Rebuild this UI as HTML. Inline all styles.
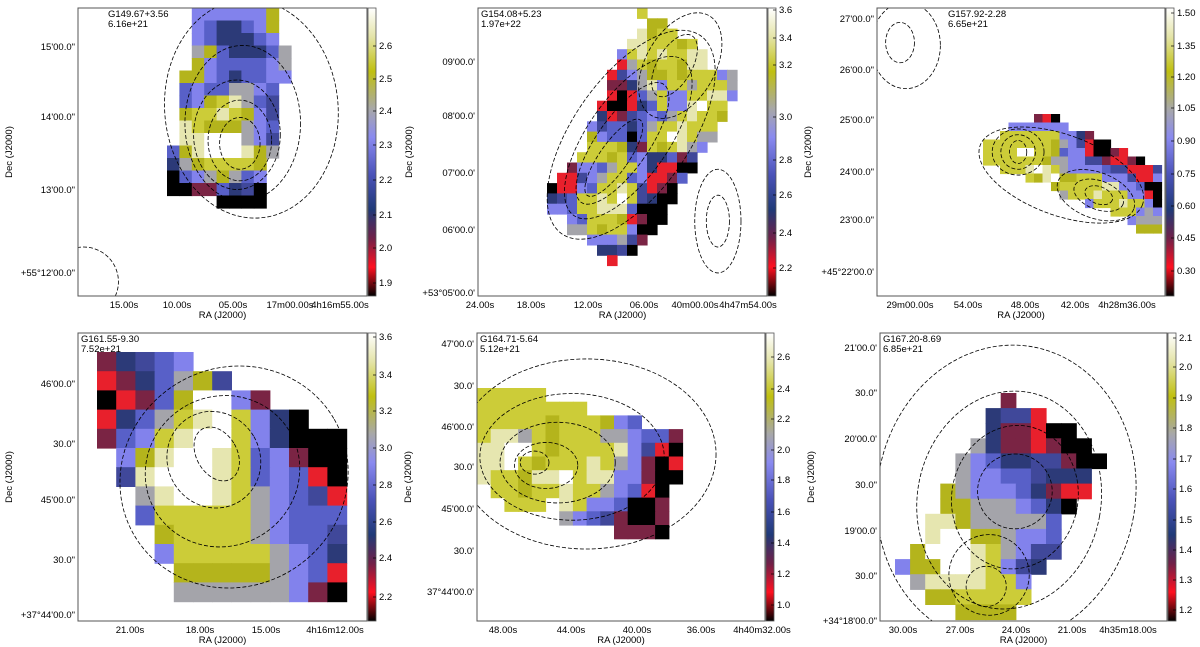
<!DOCTYPE html>
<html><head><meta charset="utf-8"><style>
html,body{margin:0;padding:0;background:#fff;overflow:hidden;width:1200px;height:647px;}
svg{display:block;}
svg text{font-family:"Liberation Sans","DejaVu Sans",sans-serif;fill:#000;}
</style></head><body>
<svg id="fig" width="1200" height="647" viewBox="0 0 1200 647" xmlns="http://www.w3.org/2000/svg">
<defs>
<linearGradient id="cmap" x1="0" y1="1" x2="0" y2="0">
<stop offset="0" stop-color="#000000"/><stop offset="0.1" stop-color="#ff1020"/><stop offset="0.2" stop-color="#702048"/><stop offset="0.3" stop-color="#203a78"/><stop offset="0.42" stop-color="#4a52b8"/><stop offset="0.55" stop-color="#8a8af0"/><stop offset="0.65" stop-color="#a8a8a8"/><stop offset="0.78" stop-color="#c0c010"/><stop offset="0.9" stop-color="#e4e4a8"/><stop offset="1" stop-color="#ffffff"/>
</linearGradient>
</defs>
</svg>
<script>
const palette={k:'#000000',r:'#e8202c',m:'#7a2444',d:'#2c3a78',n:'#40489a',b:'#5860c8',l:'#8282ec',g:'#a4a4aa',o:'#b4b41c',y:'#cccc38',p:'#e6e6b0',w:'#ffffff'};

const titles1=['G149.67+3.56','G154.08+5.23','G157.92-2.28','G161.55-9.30','G164.71-5.64','G167.20-8.69'];
const titles2=['6.16e+21','1.97e+22','6.65e+21','7.52e+21','5.12e+21','6.85e+21'];

const grid1=["..llllllo.","..lbddblo.","..lbdddbl.","..gobdddbg","..olbbbblg",".oolbdbbll",".blbbgglb.",".bloypgbn.",".oyypyoln.",".pyoooglb.",".ppwwwgln.","bopwwwpog.","dgoyyyyo..","kblgogbl..","kkmmbdnk..","....kkkk.."];
const grid2=["...........y..........","............oo........","...........poyy.......","..........ppyyyoy.....",".........lypypyypp....",".........rgyoyyopp....","........rnlgooyoyyylg.","........mmdgplyygyyyg.","........rkrbgyllyyppl.",".......rkkrdbyllpwyy..",".......drmnblbgypyyo..","......lnbbdbgyypyyy...","......olbbkbyywpygg...","......yyyodmyoypgl....",".....yyyoyblddbmn.....","....mllbgyyldrrkk.....","...rrnlgyyblrrmb......","..krrlbyypynrmk.......","..dnbyypywyndkk.......","..llbyypppbkkk........","....lbyyyormkk........","....ggyoyylkk.........","......lllgnm..........",".......ddnk...........","........r............."];
const grid3=["......mrk............","...lllllll...........","..yyyyyyylldm........","yyyyyyyyoglnrkk......","yyyywwyyobllrkkmr....","yyyyyyyoggllnnmrrmk..","..yyypwpygllllbnnrrrn",".....yopwooyyylllnrrl","........oyyyyyppllbkk",".........gyyypyyyllrk","............lyyypyylk","...............yyylgl",".................lggg","..................ooo"];
const grid4=["mdnbl........","rmdbgon......","krmbowwlm....","rdbgypwyldk..","mblypwwyldkkk",".lopwwpyblmkk",".npwwwpyblbrk","..gpwwpyglbnr","..byyyyyglbbb","...oyyyyglbbn","...lyyyyyglbd","....oooooglbr","....gggggglmk"];
const grid5=["yyyyy..........","yyyyyyyy.......","yyyyyoyyyolb...","yppgyoyyygglbbm","ppwwyoyyyyplnrk","ppwyoyyypyglmkr","pyyoppwyppllmkk",".yyoyypyyglbrk.","..yyy.pyllbkkm.","......glbnmkkm.","..........mmmk."];
const grid6=[".......m......","......dnnr....","......dmmrkk..",".....gdmmrmkk.","....glbddnnmkk","....gllbbnddd.","...oglllbdmrr..","...ooggglbdk...","..ppogggggb....","..pwwoogllb....",".owwwpyglnn....","loowwpylnd....",".gppppyyl.....","..ooyyyyy.....","....oooo......"];
const grids=[grid1,grid2,grid3,grid4,grid5,grid6];

// contour ellipses [cx,cy,rx,ry,angle] in axis fractions
const cont1=[[0.56,0.47,0.07,0.09,0],[0.56,0.46,0.11,0.14,0],[0.55,0.44,0.15,0.19,0],[0.57,0.4,0.2,0.27,0],[0.6,0.35,0.3,0.38,-5],[0.02,0.95,0.12,0.12,30]];
const cont2=[[0.47,0.52,0.05,0.16,35],[0.5,0.47,0.09,0.25,35],[0.52,0.45,0.14,0.33,35],[0.53,0.44,0.2,0.42,35],[0.68,0.2,0.06,0.12,30],[0.7,0.2,0.12,0.2,30],[0.83,0.74,0.04,0.09,0],[0.83,0.74,0.08,0.18,0]];
const cont3=[[0.49,0.5,0.03,0.04,0],[0.49,0.5,0.06,0.06,0],[0.49,0.5,0.09,0.08,0],[0.77,0.65,0.05,0.03,20],[0.77,0.65,0.09,0.05,20],[0.76,0.65,0.14,0.08,20],[0.64,0.58,0.3,0.14,20],[0.08,0.12,0.05,0.07,0],[0.1,0.13,0.12,0.15,0]];
const cont4=[[0.48,0.42,0.07,0.1,-30],[0.47,0.44,0.16,0.17,-30],[0.5,0.48,0.27,0.26,-30],[0.54,0.5,0.4,0.38,-30]];
const cont5=[[0.2,0.45,0.05,0.04,0],[0.24,0.46,0.11,0.08,0],[0.28,0.45,0.2,0.14,0],[0.33,0.43,0.32,0.22,0],[0.38,0.42,0.45,0.33,0]];
const cont6=[[0.37,0.88,0.07,0.07,0],[0.38,0.84,0.14,0.14,0],[0.47,0.55,0.13,0.13,10],[0.47,0.57,0.22,0.25,10],[0.45,0.58,0.32,0.38,10],[0.44,0.56,0.45,0.52,10]];
const conts=[cont1,cont2,cont3,cont4,cont5,cont6];

const ytl=[["15'00.0\"","14'00.0\"","13'00.0\"","+55°12'00.0\""],["09'00.0'","08'00.0'","07'00.0'","06'00.0'","+53°05'00.0'"],["27'00.0\"","26'00.0\"","25'00.0\"","24'00.0\"","23'00.0\"","+45°22'00.0'"],["46'00.0\"","30.0\"","45'00.0\"","30.0\"","+37°44'00.0\""],["47'00.0'","30.0'","46'00.0'","30.0'","45'00.0'","30.0'","37°44'00.0'"],["21'00.0'","30.0\"","20'00.0'","30.0\"","19'00.0'","30.0\"","+34°18'00.0\""]];
const xtl=[["15.00s","10.00s","05.00s","17m00.00s","4h16m55.00s"],["24.00s","18.00s","12.00s","06.00s","40m00.00s","4h47m54.00s"],["29m00.00s","54.00s","48.00s","42.00s","4h28m36.00s"],["21.00s","18.00s","15.00s","4h16m12.00s"],["48.00s","44.00s","40.00s","36.00s","4h40m32.00s"],["30.00s","27.00s","24.00s","21.00s","4h35m18.00s"]];
const cbl=[["2.6","2.5","2.4","2.3","2.2","2.1","2.0","1.9"],["3.6","3.4","3.2","3.0","2.8","2.6","2.4","2.2"],["1.50","1.35","1.20","1.05","0.90","0.75","0.60","0.45","0.30"],["3.6","3.4","3.2","3.0","2.8","2.6","2.4","2.2"],["2.6","2.4","2.2","2.0","1.8","1.6","1.4","1.2","1.0"],["2.1","2.0","1.9","1.8","1.7","1.6","1.5","1.4","1.3","1.2"]];

// layout (pixels)
const L=[
 {ax:[78,8,289,288],hm:[167,8,12.4,12.5],tx:108,yt:[47,117,190,273],xt:[124,177,233,290,340],cb:[46,79,111,145,180,215,248,283]},
 {ax:[478,8,289,288],hm:[527,8,10,10.3],tx:481,yt:[62,116,173,230,293],xt:[480,531,588,644,695,748],cb:[10,38,65,117,160,195,233,268]},
 {ax:[877,8,288,288],hm:[983,114,8.5,8.5],tx:948,yt:[19,70,120,172,220,272],xt:[910,968,1025,1075,1127],cb:[13,46,77,108,141,174,206,238,271]},
 {ax:[78,333,289,288],hm:[97,352,19.2,19.2],tx:81,yt:[384,444,500,560,615],xt:[130,200,266,335],cb:[337,375,411,448,485,522,558,597]},
 {ax:[477,333,288,288],hm:[477,388,13.7,13.7],tx:480,yt:[344,386,427,467,509,551,592],xt:[503,571,637,701,762],cb:[357,389,419,450,480,512,543,574,605]},
 {ax:[880,333,287,288],hm:[895,393,15.1,15.1],tx:883,yt:[348,393,439,485,531,576,621],xt:[903,960,1016,1072,1128],cb:[338,367,398,428,459,489,520,550,580,610]}
];

const NS='http://www.w3.org/2000/svg';
const svg=document.getElementById('fig');
function mk(tag,attrs,parent){const e=document.createElementNS(NS,tag);for(const k in attrs)e.setAttribute(k,attrs[k]);(parent||svg).appendChild(e);return e;}
function txt(x,y,s,anchor,size,parent){const t=mk('text',{x:x,y:y,'font-size':size||10,'text-anchor':anchor||'start'},parent);t.textContent=s;return t;}

L.forEach((p,i)=>{
  const g=mk('g',{});
  
  
  const [ax,ay,aw,ah]=p.ax;
  const clip=mk('clipPath',{id:'c'+i},g);mk('rect',{x:ax,y:ay,width:aw,height:ah},clip);
  const hm=mk('g',{'clip-path':'url(#c'+i+')'},g);
  
  
  const [hx,hy,cw,ch]=p.hm;
  grids[i].forEach((row,r)=>{
    for(let c=0;c<row.length;c++){const k=row[c];if(palette[k]){
      const cell=mk('rect',{x:(hx+c*cw).toFixed(1),y:(hy+r*ch).toFixed(1),width:(cw+0.6).toFixed(1),height:(ch+0.6).toFixed(1),fill:palette[k]},hm);
      
      
    }}
  });
  conts[i].forEach(e=>{
    const el=mk('ellipse',{cx:ax+e[0]*aw,cy:ay+e[1]*ah,rx:e[2]*aw,ry:e[3]*ah,transform:`rotate(${e[4]} ${ax+e[0]*aw} ${ay+e[1]*ah})`,fill:'none',stroke:'#000','stroke-width':0.8,'stroke-dasharray':'4,2'},hm);
    
    
  });
  const fr=mk('rect',{x:ax,y:ay,width:aw,height:ah,fill:'none',stroke:'#555','stroke-width':1},g);
  
  
  const t1=txt(p.tx,ay+9,titles1[i],'start',9.5,g);
  
  
  const t2=txt(p.tx,ay+19,titles2[i],'start',9.5,g);
  
  
  ytl[i].forEach((s,j)=>{
    const t=txt(ax-3,p.yt[j]+3,s,'end',9.5,g);
    
    
  });
  const xb=ay+ah+12;
  xtl[i].forEach((s,j)=>{
    const t=txt(p.xt[j],xb,s,'middle',9.5,g);
    
    
  });
  const xl=txt(ax+aw/2,ay+ah+22,'RA (J2000)','middle',9.5,g);
  
  
  const yl=txt(0,0,'Dec (J2000)','middle',9.5,g);
  yl.setAttribute('transform',`translate(${ax-66},${ay+ah/2}) rotate(-90)`);
  
  
  const cbx=ax+aw+1;
  const cb=mk('rect',{x:cbx,y:ay,width:8,height:ah,fill:'url(#cmap)',stroke:'#555','stroke-width':0.8},g);
  
  
  cbl[i].forEach((s,j)=>{
    mk('line',{x1:cbx+5,x2:cbx+8,y1:p.cb[j],y2:p.cb[j],stroke:'#000','stroke-width':0.7},g);
    const t=txt(cbx+11,p.cb[j]+3,s,'start',9.5,g);
    
    
  });
});
</script>
</body></html>
